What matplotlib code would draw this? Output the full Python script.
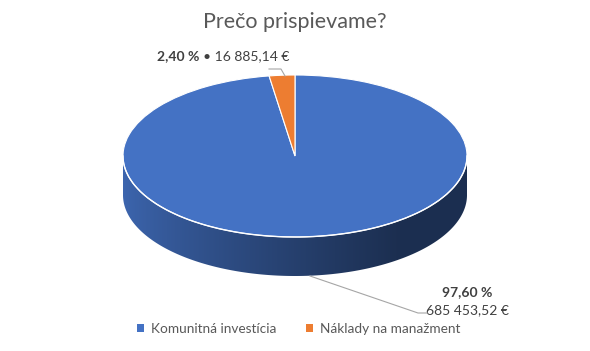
import numpy as np
import matplotlib.pyplot as plt
from matplotlib.colors import to_rgb
from matplotlib.patches import Polygon, Patch

plt.rcParams['font.family'] = ['Lato', 'DejaVu Sans']

labels = ["Komunitná investícia", "Náklady na manažment"]
values = [685453.52, 16885.14]
colors = ["#4472C4", "#ED7D31"]


def fmt_money(v):
    s = f"{v:,.2f}".replace(",", " ").replace(".", ",")
    return s + " €"


def fmt_pct(p):
    return f"{p:.2f}".replace(".", ",") + " %"


W, H = 590, 351
cx, cy = 295, 156
rx, ry, depth = 172, 81, 39

fig = plt.figure(figsize=(5.9, 3.51), dpi=100)
ax = fig.add_axes([0, 0, 1, 1])

wedges, _ = ax.pie(values, colors=colors, startangle=90, counterclock=False,
                   wedgeprops=dict(edgecolor="white", linewidth=0.8), radius=1)
for w in wedges:
    w.set_zorder(5)
ax.set_aspect("auto")

# side of the cylinder (front half), shaded image clipped to the side shape
d = depth / ry
xs = np.linspace(-1, 1, 600)
cols = []
for x in xs:
    tm = 360 - np.degrees(np.arccos(x))
    col = colors[0]
    for w, c in zip(wedges, colors):
        if (tm - w.theta1) % 360 < (w.theta2 - w.theta1):
            col = c
    f = 0.89 - 0.48 * min(1.0, ((x + 1) / 1.6) ** 0.8)
    cols.append(np.array(to_rgb(col)) * f)
img = np.array(cols)[np.newaxis, :, :]
im = ax.imshow(img, extent=(-1, 1, -1 - d, 0), aspect="auto",
               interpolation="bilinear", zorder=3)
t = np.radians(np.linspace(180, 360, 300))
side = np.vstack([np.column_stack([np.cos(t), np.sin(t)]),
                  np.column_stack([np.cos(t[::-1]), np.sin(t[::-1]) - d])])
clip = Polygon(side, closed=True, facecolor="none", edgecolor="none")
ax.add_patch(clip)
im.set_clip_path(clip)
ax.set_xlim(-cx / rx, (W - cx) / rx)
ax.set_ylim(-(H - cy) / ry, cy / ry)
ax.axis("off")

ax.plot(np.cos(t), np.sin(t), color="white", lw=1.0, zorder=6)

# data labels
total = sum(values)
pcts = [v / total * 100 for v in values]


def px(x, y):
    return x / W, 1 - y / H


lab_col = "#404040"
fig.text(*px(199, 56), fmt_pct(pcts[1]), fontsize=10, fontweight="bold",
         color=lab_col, ha="right", va="center")
fig.text(*px(203, 56), "• " + fmt_money(values[1]), fontsize=10,
         color=lab_col, ha="left", va="center")
fig.text(*px(467, 292), fmt_pct(pcts[0]), fontsize=10, fontweight="bold",
         color=lab_col, ha="center", va="center")
fig.text(*px(467, 310), fmt_money(values[0]), fontsize=10,
         color=lab_col, ha="center", va="center")

ov = fig.add_axes([0, 0, 1, 1], zorder=10)
ov.set_xlim(0, W)
ov.set_ylim(H, 0)
ov.axis("off")
ov.plot([269, 281, 285], [69, 69, 76], color="#a6a6a6", lw=0.8)
ov.plot([310, 418, 427], [276, 313, 313], color="#a6a6a6", lw=0.8)

fig.text(0.5, 1 - 22 / H, "Prečo prispievame?", fontsize=15.5, color="#595959",
         ha="center", va="center")

handles = [Patch(facecolor=c, edgecolor="none") for c in colors]
fig.legend(handles, labels, loc="center", bbox_to_anchor=(0.506, 1 - 329 / H),
           ncol=2, frameon=False, fontsize=9.8, labelcolor="#595959",
           handlelength=0.5, handleheight=0.5, handletextpad=0.5, columnspacing=2.2)

fig.savefig("out.png", dpi=100)
